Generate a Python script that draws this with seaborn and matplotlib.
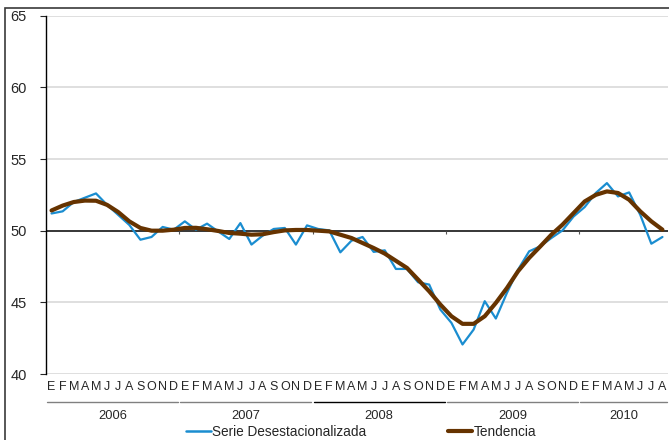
import numpy as np
import pandas as pd
import seaborn as sns
from matplotlib import pyplot as plt
from matplotlib.patches import Rectangle
from matplotlib.lines import Line2D
import matplotlib.transforms as mtransforms

# data (Jan 2006 .. Aug 2010)
years = ["2006", "2007", "2008", "2009", "2010"]
months_per_year = [12, 12, 12, 12, 8]
month_letters = ["E", "F", "M", "A", "M", "J", "J", "A", "S", "O", "N", "D"]

serie = [51.2, 51.35, 52.0, 52.3, 52.6, 51.8, 51.1, 50.4, 49.37, 49.56, 50.26, 50.07,
         50.65, 50.07, 50.49, 49.95, 49.42, 50.53, 49.03, 49.65, 50.12, 50.19, 49.03, 50.37,
         50.12, 50.02, 48.49, 49.3, 49.56, 48.52, 48.63, 47.33, 47.33, 46.4, 46.24, 44.5,
         43.57, 42.06, 43.1, 45.08, 43.87, 45.66, 47.28, 48.56, 48.91, 49.49, 50.02, 50.99,
         51.65, 52.63, 53.32, 52.39, 52.67, 51.11, 49.09, 49.56]

tendencia = [51.41, 51.75, 52.0, 52.1, 52.09, 51.8, 51.3, 50.65, 50.19, 50.0, 50.0, 50.07,
             50.19, 50.2, 50.1, 49.98, 49.84, 49.79, 49.72, 49.75, 49.9, 50.02, 50.05, 50.05,
             50.0, 49.95, 49.72, 49.49, 49.14, 48.79, 48.4, 47.9, 47.4, 46.59, 45.77, 44.85,
             44.03, 43.5, 43.5, 44.03, 44.96, 46.0, 47.17, 48.1, 48.9, 49.72, 50.42, 51.23,
             52.04, 52.5, 52.74, 52.63, 52.16, 51.35, 50.65, 50.07]

labels = []
for n in months_per_year:
    labels += month_letters[:n]
idx = np.arange(len(serie))

df = pd.DataFrame({"mes": np.concatenate([idx, idx]),
                   "valor": serie + tendencia,
                   "serie": ["Serie Desestacionalizada"] * len(serie) + ["Tendencia"] * len(tendencia)})

sns.set_style("white")
plt.rcParams['font.family'] = ['Liberation Sans', 'DejaVu Sans']

fig = plt.figure(figsize=(6.69, 4.40), dpi=100)
ax = fig.add_axes([46 / 669, 1 - 374 / 440, 622 / 669, 358.3 / 440])

# outer frame
fig.patches.append(Rectangle((5 / 669, -0.1), 1.2, 1.1 - 8 / 440, transform=fig.transFigure,
                             fill=False, edgecolor="#3a3a3a", linewidth=1.2))

for v in [40, 45, 55, 60, 65]:
    ax.axhline(v, color="#d9d9d9", linewidth=1.2, zorder=0)
ax.axhline(50, color="black", linewidth=1.1, zorder=1)

# small ticks on the category axis (at 50) between years
bounds = np.cumsum(months_per_year)[:-1] - 0.5
ax.vlines(bounds, 49.75, 50, color="#555555", linewidth=0.8, zorder=1)

sns.lineplot(data=df, x="mes", y="valor", hue="serie", ax=ax,
             palette={"Serie Desestacionalizada": "#1a8dd0", "Tendencia": "#663300"},
             size="serie", sizes={"Serie Desestacionalizada": 1.6, "Tendencia": 3.0},
             legend=False, zorder=3)

ax.set_xlim(-0.5, len(serie) - 0.5)
ax.set_ylim(40, 65)
ax.set_yticks([40, 45, 50, 55, 60, 65])
ax.tick_params(axis="y", labelsize=10.5, length=4, width=0.8, left=True, pad=10)
ax.set_xticks(idx)
ax.set_xticklabels(labels, fontsize=9)
ax.tick_params(axis="x", length=0, pad=5)
ax.set_xlabel("")
ax.set_ylabel("")
for s in ["top", "right", "bottom"]:
    ax.spines[s].set_visible(False)
ax.spines["left"].set_color("black")
ax.spines["left"].set_linewidth(1.0)

# year groups: underline + label
trans = mtransforms.blended_transform_factory(ax.transData, ax.transAxes)
start = 0
for y, n in zip(years, months_per_year):
    x0, x1 = start - 0.4, start + n - 0.6
    col = "black" if y == "2008" else "#808080"
    ax.plot([x0, x1], [-0.078, -0.078], transform=trans, color=col, linewidth=1.0, clip_on=False)
    ax.text((x0 + x1) / 2, -0.117, y, transform=trans, ha="center", va="center", fontsize=9.3)
    start += n

# legend
handles = [Line2D([], [], color="#1a8dd0", linewidth=1.8),
           Line2D([], [], color="#663300", linewidth=3.0)]
fig.legend(handles, ["Serie Desestacionalizada", "Tendencia"], loc="center",
           bbox_to_anchor=(0.54, 1 - 432 / 440), ncol=2, frameon=False, fontsize=9.8,
           handlelength=1.8, handletextpad=0.1, columnspacing=6.0, borderpad=0)

fig.savefig("out.png", dpi=100)
